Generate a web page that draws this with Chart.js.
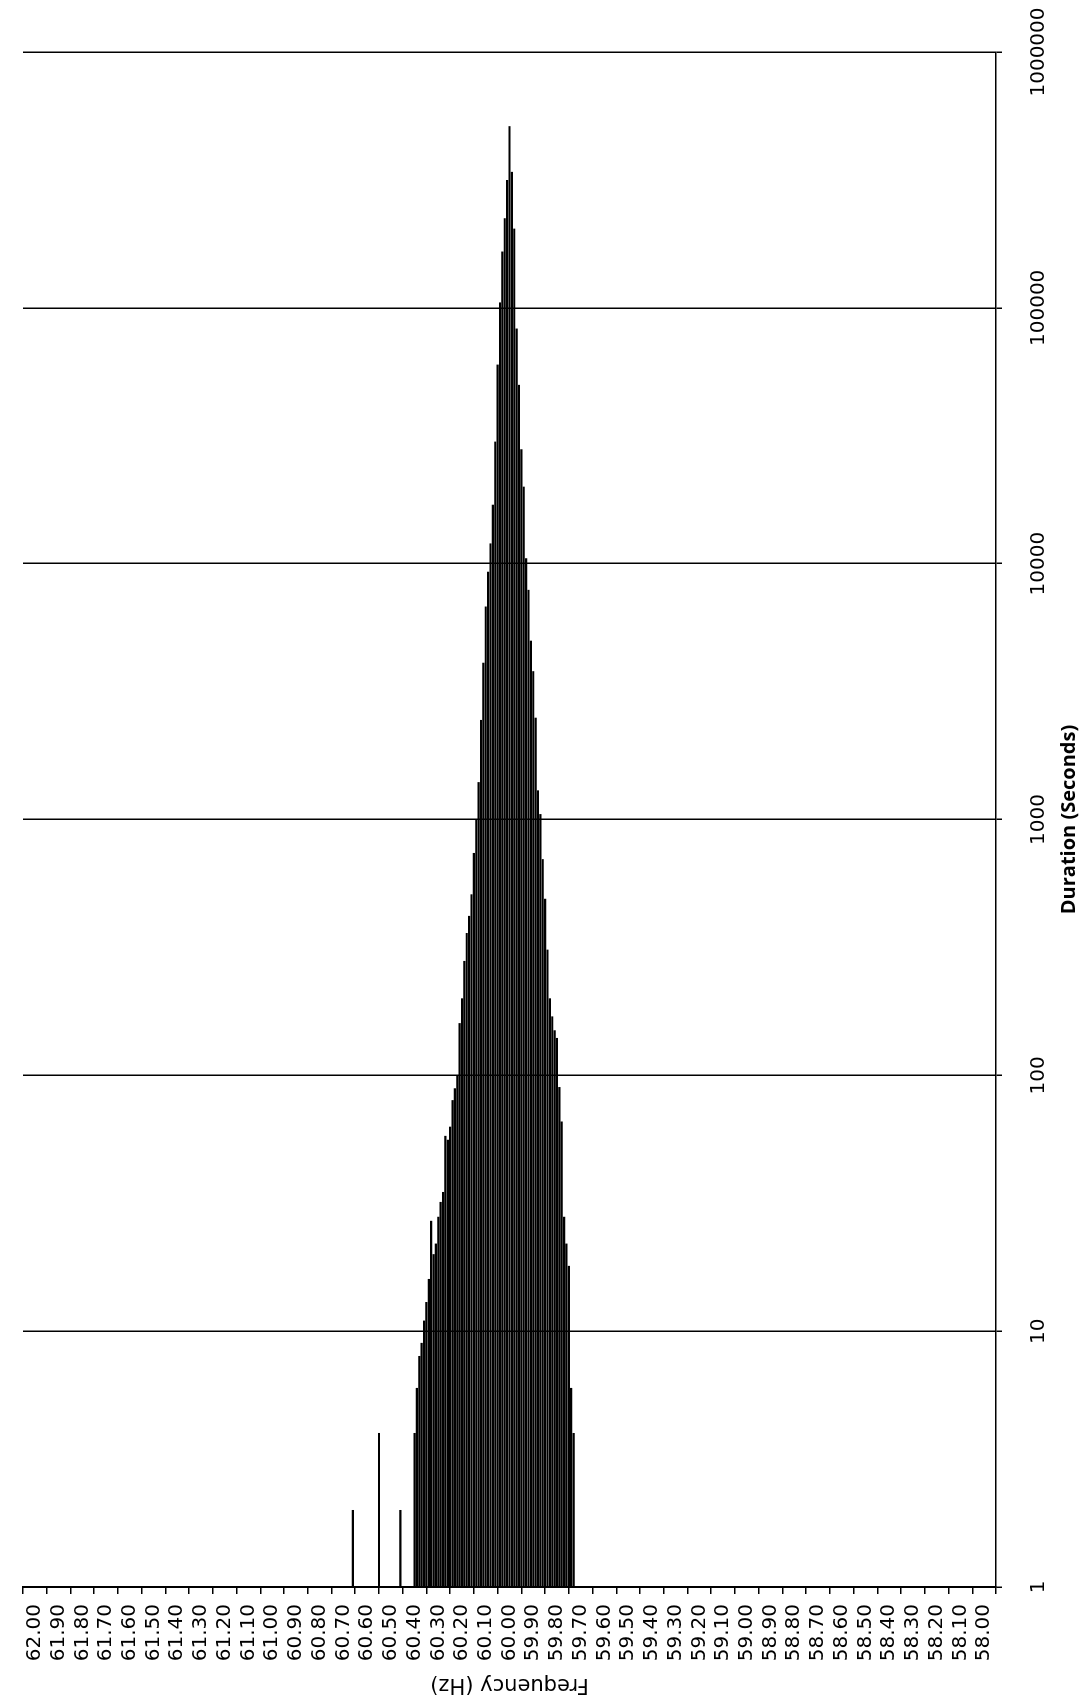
<!DOCTYPE html>
<html>
<head>
<meta charset="utf-8">
<script src="https://cdn.jsdelivr.net/npm/chart.js@4.4.1/dist/chart.umd.min.js"></script>
<style>
  html, body { margin: 0; padding: 0; background: #fff; overflow: hidden; }
  #wrap { position: relative; width: 1090px; height: 1699px; overflow: hidden; }
  /* chart is drawn landscape, then turned a quarter left like the scan */
  #freq-chart { position: absolute; left: 0; top: 0; transform-origin: 0 0;
                transform: translateY(1699px) rotate(-90deg); }
</style>
</head>
<body>
<div id="wrap"><canvas id="freq-chart" width="1699" height="1090"></canvas></div>
<script>
// ── DATA ──────────────────────────────────────────────
const freqBins = [
  60.66, 60.55, 60.46,
  60.40, 60.39, 60.38, 60.37, 60.36, 60.35, 60.34, 60.33, 60.32, 60.31,
  60.30, 60.29, 60.28, 60.27, 60.26, 60.25, 60.24, 60.23, 60.22, 60.21,
  60.20, 60.19, 60.18, 60.17, 60.16, 60.15, 60.14, 60.13, 60.12, 60.11,
  60.10, 60.09, 60.08, 60.07, 60.06, 60.05, 60.04, 60.03, 60.02, 60.01,
  60.00, 59.99, 59.98, 59.97, 59.96, 59.95, 59.94, 59.93, 59.92, 59.91,
  59.90, 59.89, 59.88, 59.87, 59.86, 59.85, 59.84, 59.83, 59.82, 59.81,
  59.80, 59.79, 59.78, 59.77, 59.76, 59.75, 59.74, 59.73
];
const durations = [
  2, 4, 2,
  4, 6, 8, 9, 11, 13, 16, 27, 20, 22,
  28, 32, 35, 58, 56, 63, 80, 89, 100, 160,
  200, 280, 360, 420, 510, 740, 1000, 1400, 2450, 4100,
  6800, 9300, 12000, 17000, 30000, 60000, 105000, 166000, 224000, 316000,
  513000, 340000, 204000, 83000, 50000, 28000, 20000, 10500, 7900, 5000,
  3800, 2500, 1300, 1050, 700, 490, 310, 200, 170, 150,
  140, 90, 66, 28, 22, 18, 6, 4
];
const freqTicks = [
  "62.00", "61.90", "61.80", "61.70", "61.60", "61.50", "61.40", "61.30", "61.20", "61.10",
  "61.00", "60.90", "60.80", "60.70", "60.60", "60.50", "60.40", "60.30", "60.20", "60.10",
  "60.00", "59.90", "59.80", "59.70", "59.60", "59.50", "59.40", "59.30", "59.20", "59.10",
  "59.00", "58.90", "58.80", "58.70", "58.60", "58.50", "58.40", "58.30", "58.20", "58.10",
  "58.00"
];
const durTicks = [1, 10, 100, 1000, 10000, 100000, 1000000];

// ── CHART ─────────────────────────────────────────────
const ctx = document.getElementById('freq-chart').getContext('2d');
new Chart(ctx, {
  type: 'bar',
  data: {
    datasets: [{
      label: 'Duration',
      data: freqBins.map((f, i) => ({ x: durations[i], y: f })),
      backgroundColor: '#000',
      borderWidth: 0,
      barPercentage: 0.92,
      categoryPercentage: 1
    }]
  },
  options: {
    indexAxis: 'y',
    responsive: false,
    animation: false,
    layout: { padding: { left: 0, right: 52, top: 23, bottom: 0 } },
    scales: {
      y: {
        type: 'linear',
        min: 58,
        max: 62,
        afterBuildTicks: s => { s.ticks = freqTicks.map(t => ({ value: parseFloat(t) })); },
        // fixed axis box so the plot lands where the scan has it
        afterFit: s => { s.width = 112; s.paddingTop = 0; s.paddingBottom = 0; },
        grid: { drawOnChartArea: false, drawTicks: true, tickLength: 7, color: '#000', lineWidth: 1.5 },
        border: { display: true, color: '#000', width: 2 },
        ticks: {
          autoSkip: false,
          padding: 10,
          color: '#000',
          font: { family: 'DejaVu Sans', size: 20 },
          callback: v => Number(v).toFixed(2)
        },
        title: {
          display: true,
          text: 'Frequency (Hz)',
          color: '#000',
          font: { family: 'DejaVu Sans', size: 21, lineHeight: 1 },
          padding: { top: 4.5, bottom: 0 }
        }
      },
      x: {
        type: 'logarithmic',
        min: 1,
        max: 1000000,
        afterBuildTicks: s => { s.ticks = durTicks.map(v => ({ value: v })); },
        afterFit: s => { s.height = 94; s.paddingLeft = 0; s.paddingRight = 0; },
        grid: { color: '#000', lineWidth: 1.5, tickLength: 6 },
        border: { display: true, color: '#000', width: 1.5 },
        ticks: {
          autoSkip: false,
          maxRotation: 0,
          padding: 27,
          color: '#000',
          font: { family: 'DejaVu Sans', size: 20, lineHeight: 1 },
          callback: v => String(v)
        },
        title: {
          display: true,
          text: 'Duration (Seconds)',
          color: '#000',
          font: { family: 'Open Sans', size: 20, weight: 'bold', lineHeight: 1 },
          padding: { top: 0, bottom: 11 }
        }
      }
    },
    plugins: {
      legend: { display: false },
      tooltip: { enabled: false }
    }
  }
});
</script>
</body>
</html>
